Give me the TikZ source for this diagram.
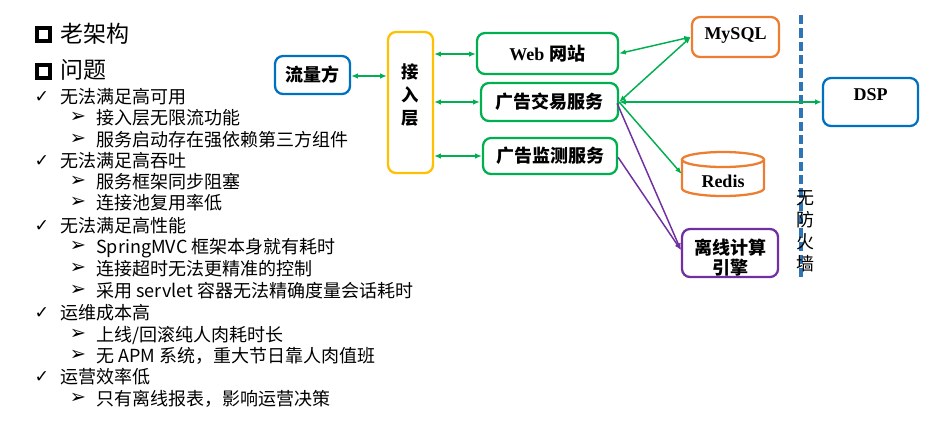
\documentclass[tikz,border=0pt]{standalone}
\usepackage{fontspec}
\setmainfont{Noto Sans CJK SC}
\newfontfamily\tnr{Liberation Serif}
\newfontfamily\dv{DejaVu Sans}
\usetikzlibrary{arrows.meta}
\definecolor{cBlue}{HTML}{0070C0}
\definecolor{cDash}{HTML}{2E75B6}
\definecolor{cGreen}{HTML}{00B050}
\definecolor{cOrange}{HTML}{ED7D31}
\definecolor{cYellow}{HTML}{FFC000}
\definecolor{cPurple}{HTML}{7030A0}
\begin{document}
\begin{tikzpicture}[x=0.75pt,y=-0.75pt,
  box/.style={draw, line width=1.7pt, rounded corners=6pt, inner sep=0pt, fill=white,
    font=\fontsize{13.5}{16}\selectfont\bfseries},
  lbl/.style={inner sep=0pt, align=center, font=\fontsize{13.5}{16}\selectfont\bfseries},
  h1/.style={anchor=west, inner sep=0pt, text height=0.85em, text depth=0.1em,
    font=\fontsize{17.25}{20}\selectfont},
  t1/.style={anchor=west, inner sep=0pt, text height=0.85em, text depth=0.1em,
    font=\fontsize{13.5}{16}\selectfont},
  sq/.style={draw, line width=3pt, minimum size=9.75pt, inner sep=0pt},
  chk/.style={inner sep=0pt, font=\dv\bfseries\fontsize{13}{13}\selectfont},
  arr/.style={inner sep=0pt, font=\dv\fontsize{14.5}{15}\selectfont},
  conn/.style={draw=cGreen, line width=1.1pt, {Latex[length=5pt,width=4pt]}-{Latex[length=5pt,width=4pt]}},
  oneconn/.style={draw=cGreen, line width=1.1pt, -{Latex[length=5pt,width=4pt]}},
  pconn/.style={draw=cPurple, line width=1.1pt, -{Latex[length=5pt,width=4pt]}},
  cyl/.style={draw=cOrange, line width=1.7pt}
]
\useasboundingbox (0,0) rectangle (932,437);

% ---------- left text ----------
\node[sq] (s1) at (43.5,34.5) {};
\node[h1] (th1) at (60,37) {老架构};
\node[sq] (s2) at (43.5,71) {};
\node[h1] (th2) at (60,73) {问题};

\node[chk] (c1) at (42,97) {✓};
\node[t1] (l1) at (60,98) {无法满足高可用};
\node[arr] (a1) at (78,117) {➢};
\node[t1] (l2) at (96,119) {接入层无限流功能};
\node[arr] (a2) at (78,139) {➢};
\node[t1] (l3) at (96,141) {服务启动存在强依赖第三方组件};
\node[chk] (c2) at (42,161) {✓};
\node[t1] (l4) at (60,162) {无法满足高吞吐};
\node[arr] (a3) at (78,181) {➢};
\node[t1] (l5) at (96,183) {服务框架同步阻塞};
\node[arr] (a4) at (78,202) {➢};
\node[t1] (l6) at (96,204) {连接池复用率低};
\node[chk] (c3) at (42,226) {✓};
\node[t1] (l7) at (60,227) {无法满足高性能};
\node[arr] (a5) at (78,246) {➢};
\node[t1] (l8) at (96,248) {SpringMVC 框架本身就有耗时};
\node[arr] (a6) at (78,268) {➢};
\node[t1] (l9) at (96,270) {连接超时无法更精准的控制};
\node[arr] (a7) at (78,290) {➢};
\node[t1] (l10) at (96,292) {采用 servlet 容器无法精确度量会话耗时};
\node[chk] (c4) at (42,313) {✓};
\node[t1] (l11) at (60,314) {运维成本高};
\node[arr] (a8) at (78,334) {➢};
\node[t1] (l12) at (96,336) {上线/回滚纯人肉耗时长};
\node[arr] (a9) at (78,355) {➢};
\node[t1] (l13) at (96,357) {无 APM 系统，重大节日靠人肉值班};
\node[chk] (c5) at (42,377) {✓};
\node[t1] (l14) at (60,378) {运营效率低};
\node[arr] (a10) at (78,398) {➢};
\node[t1] (l15) at (96,400) {只有离线报表，影响运营决策};

% ---------- firewall line ----------
\draw[cDash, line width=2.4pt, dash pattern=on 7pt off 3pt] (801,15) coordinate (fwtop) -- (801,277) coordinate (fwbot);
\node[inner sep=0pt, align=center, font=\fontsize{13.5}{16.5}\selectfont] (fw) at (805,231) {无\\防\\火\\墙};

% ---------- boxes ----------
\node[box, draw=cBlue, minimum width=56.25pt, minimum height=28.5pt] (liuliang) at (312.5,75) {流量方};
\node[box, draw=cYellow, minimum width=33.75pt, minimum height=105.75pt] (jieru) at (410.5,102.5) {};
\node[lbl, font=\fontsize{13}{17.25}\selectfont\bfseries] (jierut) at (410.5,95) {接\\入\\层};
\node[box, draw=cGreen, minimum width=105.75pt, minimum height=30.75pt] (web) at (547.5,53.5) {{\tnr Web}\hspace{0.3em}网站};
\node[box, draw=cGreen, minimum width=102.75pt, minimum height=28.5pt] (jiaoyi) at (549.5,102) {广告交易服务};
\node[box, draw=cGreen, minimum width=100.5pt, minimum height=27pt] (jiance) at (550,156) {广告监测服务};
\node[box, draw=cOrange, minimum width=65.25pt, minimum height=30pt] (mysql) at (735.5,37) {};
\node[lbl] (mysqlt) at (735.5,35) {\tnr MySQL};
\node[box, draw=cBlue, minimum width=71.25pt, minimum height=36pt] (dsp) at (870.5,102) {};
\node[lbl] (dspt) at (870.5,95) {\tnr DSP};
\node[box, draw=cPurple, minimum width=72pt, minimum height=36pt] (lixian) at (730,253) {};
\node[lbl, font=\fontsize{13.5}{15}\selectfont\bfseries] (lixiant) at (730,258) {离线计算\\引擎};

% Redis cylinder
\node[inner sep=0pt, minimum width=61.5pt, minimum height=33pt] (redis) at (723,174) {};
\fill[white] (682,159.5) -- (682,188.5) arc[start angle=180,end angle=360,x radius=30.75pt,y radius=5.625pt] -- (764,159.5) -- cycle;
\draw[cyl] (682,159.5) -- (682,188.5) arc[start angle=180,end angle=360,x radius=30.75pt,y radius=5.625pt] -- (764,159.5);
\draw[cyl, fill=white] (723,159.5) ellipse [x radius=30.75pt, y radius=5.625pt];
\node[lbl] (redist) at (723,181) {\tnr Redis};

% ---------- connectors ----------
\draw[conn] ([yshift=-0.75pt]liuliang.east) -- ([yshift=-0.75pt]liuliang.east -| jieru.west);
\draw[conn] ([yshift=-0.4pt]web.west -| jieru.east) -- ([yshift=-0.4pt]web.west);
\draw[conn] (jiaoyi.west -| jieru.east) -- (jiaoyi.west);
\draw[conn] (jiance.west -| jieru.east) -- (jiance.west);
\draw[conn] (web.east) -- (mysql.west);
\draw[conn] (jiaoyi.east) -- (mysql.west);
\draw[conn] (jiaoyi.east) -- (dsp.west);
\draw[oneconn] (jiaoyi.east) -- (redis.west);
\draw[pconn] ([xshift=-1.5pt,yshift=-1pt]jiaoyi.east) -- ([yshift=2.25pt]lixian.west);
\draw[pconn] ([yshift=-1pt]jiance.east) -- ([yshift=2.25pt]lixian.west);
\end{tikzpicture}
\end{document}
